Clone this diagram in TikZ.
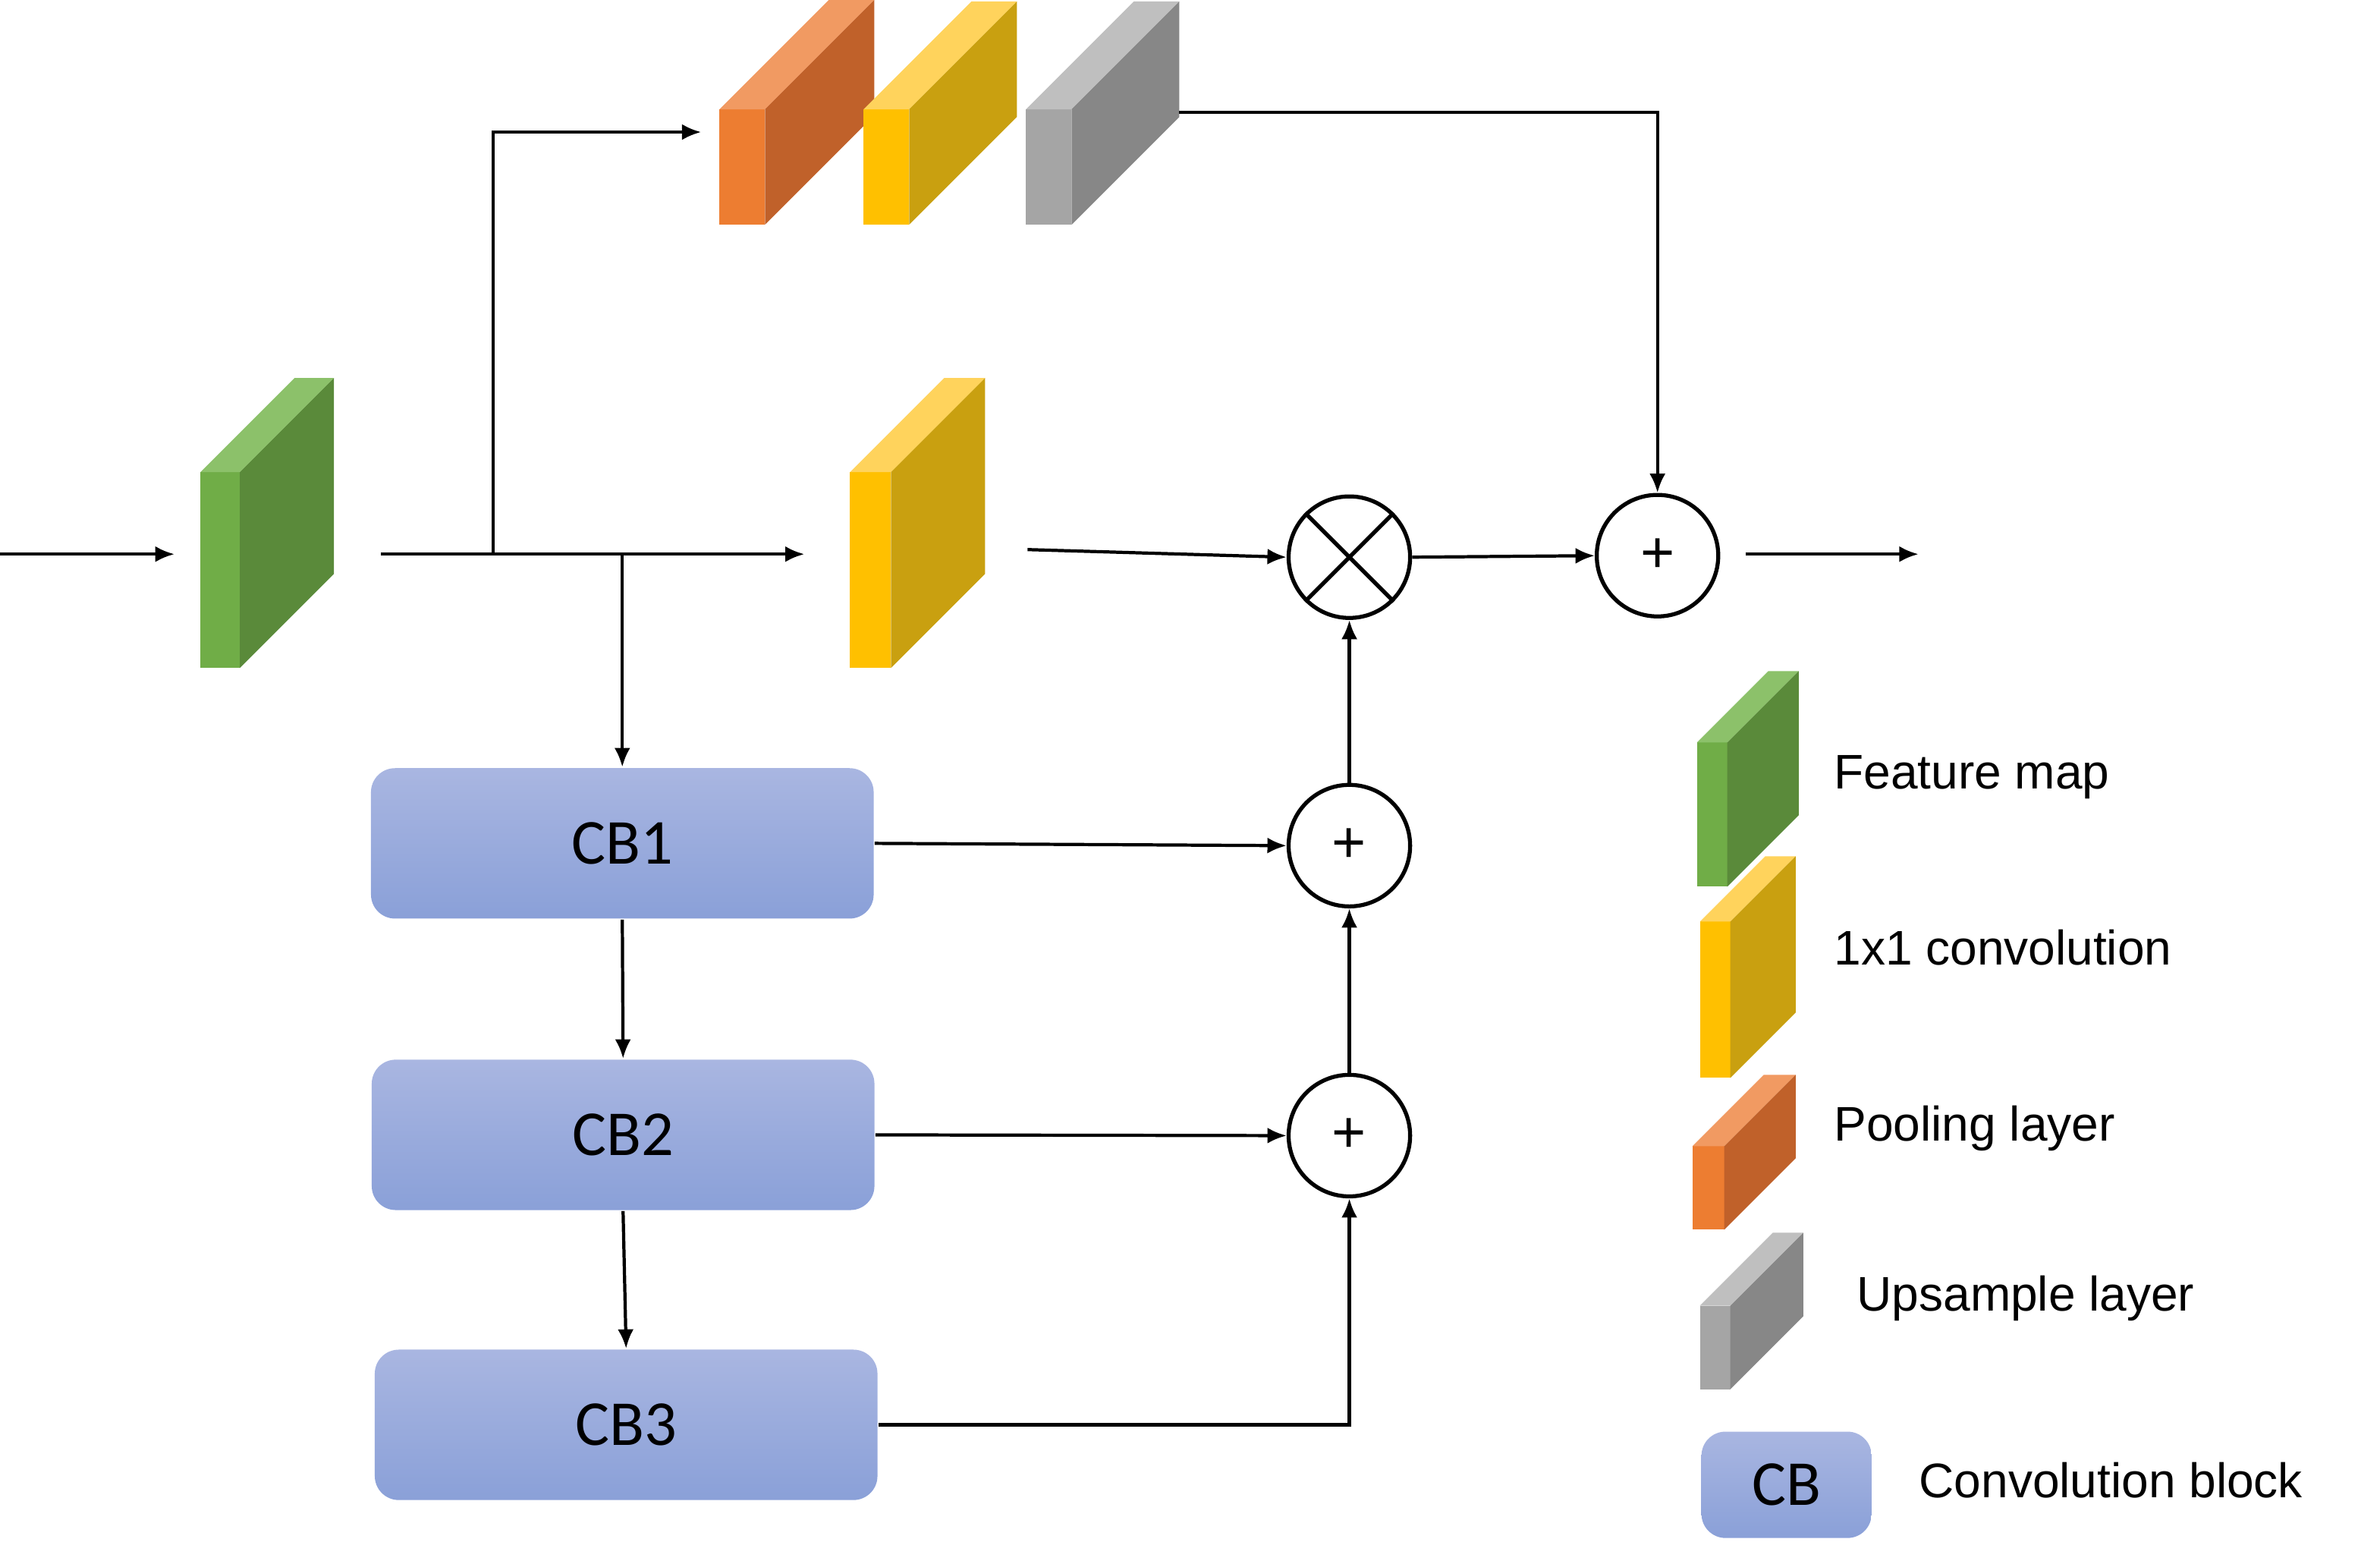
\documentclass[tikz,border=0pt]{standalone}
\usepackage{fontspec}
\setmainfont{Liberation Sans}
\newfontfamily\cbfont{Carlito}
\usetikzlibrary{arrows.meta}
\definecolor{gF}{HTML}{70AD47}\definecolor{gS}{HTML}{5A8A3A}\definecolor{gT}{HTML}{8CC16A}
\definecolor{yF}{HTML}{FFC000}\definecolor{yS}{HTML}{C9A010}\definecolor{yT}{HTML}{FFD35C}
\definecolor{oF}{HTML}{ED7D31}\definecolor{oS}{HTML}{C0612A}\definecolor{oT}{HTML}{F19A62}
\definecolor{aF}{HTML}{A5A5A5}\definecolor{aS}{HTML}{878787}\definecolor{aT}{HTML}{BFBFBF}
\definecolor{cbT}{HTML}{A9B6E1}\definecolor{cbB}{HTML}{8AA0D8}
% \blk{x}{ytop}{w}{h}{d}{prefix}
\newcommand{\blk}[6]{%
 \fill[#6F] (#1,#2) rectangle ++(#3,#4);
 \fill[#6T] (#1,#2) -- ++(#3,0) -- ++(#5,-#5) -- ++(-#3,0) -- cycle;
 \fill[#6S] (#1+#3,#2) -- ++(#5,-#5) -- ++(0,#4) -- ++(-#5,#5) -- cycle;}
\begin{document}
\begin{tikzpicture}[x=0.01cm,y=-0.01cm,
 ar/.style={-{Latex[length=3.6pt,width=3pt]},line width=0.6pt},
 cb/.style={rounded corners=4.5pt,top color=cbT,bottom color=cbB,draw=none,font=\cbfont\fontsize{12}{12}\selectfont},
 op/.style={circle,draw,line width=0.75pt,minimum size=0.8cm,inner sep=0pt,font=\fontsize{11}{11}\selectfont},
 lab/.style={anchor=west,font=\fontsize{9.1}{9.1}\selectfont}]
\useasboundingbox (0,0) rectangle (1568,1028);
% blocks
\blk{132}{311}{26}{129}{62}{g}
\blk{560}{311}{27}{129}{62}{y}
\blk{474}{72}{30}{76}{72}{o}
\blk{569}{72}{30}{76}{71}{y}
\blk{676}{72}{30}{76}{71}{a}
% legend blocks
\blk{1118}{489}{20}{95}{47}{g}
\blk{1120}{607}{20}{103}{43}{y}
\blk{1115}{755}{21}{55}{47}{o}
\blk{1120}{860}{20}{55}{48}{a}
% CB boxes
\node[cb,minimum width=3.31cm,minimum height=0.99cm] (cb1) at (410,555.5) {CB1};
\node[cb,minimum width=3.31cm,minimum height=0.99cm] (cb2) at (410.5,747.5) {CB2};
\node[cb,minimum width=3.31cm,minimum height=0.99cm] (cb3) at (412.5,938.5) {CB3};
\node[cb,minimum width=1.12cm,minimum height=0.70cm] (cbl) at (1177,978) {CB};
% ops
\node[op] (mul) at (889,367) {};
\draw[line width=0.75pt] (mul.north west)--(mul.south east) (mul.north east)--(mul.south west);
\node[op] (add) at (1092,366) {+};
\node[op] (p1) at (889,557) {+};
\node[op] (p2) at (889,748) {+};
% coordinates
\coordinate (in) at (0,365); \coordinate (inE) at (115,365);
\coordinate (fmO) at (251,365); \coordinate (yIn) at (530,365);
\coordinate (br1) at (325,365); \coordinate (poolIn) at (462,87);
\coordinate (br2) at (410,365);
\coordinate (yOut) at (677,362);
\coordinate (gOut) at (777,74);
\coordinate (out) at (1264,365); \coordinate (outS) at (1150,365);
% connectors
\draw[ar] (in)--(inE);
\draw[ar] (fmO)--(yIn);
\draw[ar] (br1)--(br1|-poolIn)--(poolIn);
\draw[ar] (br2)--(cb1.north);
\draw[ar] (cb1.south)--(cb2.north);
\draw[ar] (cb2.south)--(cb3.north);
\draw[ar] (yOut)--(mul.west);
\draw[ar] (mul.east)--(add.west);
\draw[ar] (outS)--(out);
\draw[ar] (gOut)--(add.north|-gOut)--(add.north);
\draw[ar] (cb1.east)--(p1.west);
\draw[ar] (cb2.east)--(p2.west);
\draw[ar] (cb3.east)--(p2.south|-cb3.east)--(p2.south);
\draw[ar] (p2.north)--(p1.south);
\draw[ar] (p1.north)--(mul.south);
% legend labels
\node[lab] (l1) at (1196,512) {Feature map};
\node[lab] (l2) at (1196,624) {1x1 convolution};
\node[lab] (l3) at (1196,743) {Pooling layer};
\node[lab] (l4) at (1211,855) {Upsample layer};
\node[lab] (l5) at (1252,975) {Convolution block};
\end{tikzpicture}
\end{document}
